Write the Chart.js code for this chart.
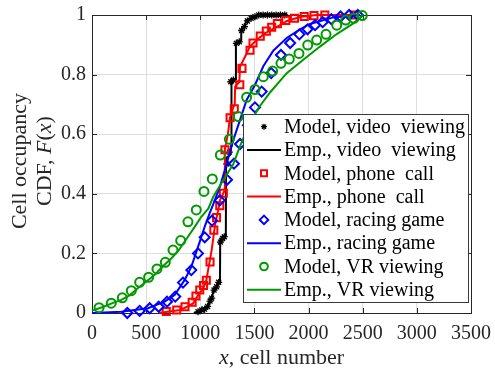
<!DOCTYPE html>
<html>
<head>
<meta charset="utf-8">
<script src="https://cdn.jsdelivr.net/npm/chart.js@4/dist/chart.umd.min.js"></script>
<style>
  html, body { margin: 0; padding: 0; background: #fff; }
  canvas { display: block; }
</style>
</head>
<body>
<canvas id="cdf" width="495" height="371"></canvas>
<script>
// Axis ticks
const xTicks = [0, 500, 1000, 1500, 2000, 2500, 3000, 3500];
const yTicks = [0, 0.2, 0.4, 0.6, 0.8, 1];

// Series: [cell number, CDF]
const videoModel = [[979,0.004],[1013,0.010],[1040,0.013],[1068,0.022],[1090,0.040],[1105,0.050],[1127,0.077],[1150,0.088],[1170,0.103],[1186,0.238],[1206,0.250],[1222,0.256],[1245,0.500],[1268,0.540],[1282,0.776],[1305,0.782],[1333,0.905],[1360,0.910],[1382,0.948],[1408,0.961],[1435,0.980],[1470,0.989],[1505,0.994],[1540,1.0],[1580,1.0],[1620,1.0],[1660,1.0],[1700,1.0],[1740,1.0],[1780,1.0]];
const videoEmp = [[940,0],[1000,0.005],[1040,0.012],[1074,0.027],[1105,0.055],[1136,0.083],[1176,0.100],[1182,0.105],[1184,0.245],[1228,0.256],[1236,0.260],[1238,0.520],[1275,0.530],[1285,0.560],[1288,0.776],[1320,0.782],[1327,0.785],[1329,0.905],[1367,0.910],[1376,0.915],[1378,0.950],[1404,0.961],[1428,0.981],[1465,0.989],[1505,0.994],[1551,1.0],[1798,1.0]];
const phoneModel = [[686,0.005],[782,0.010],[859,0.021],[925,0.036],[960,0.057],[995,0.077],[1030,0.092],[1056,0.110],[1090,0.171],[1125,0.278],[1150,0.320],[1180,0.360],[1213,0.402],[1228,0.548],[1275,0.655],[1314,0.685],[1365,0.766],[1385,0.821],[1459,0.882],[1487,0.906],[1554,0.929],[1610,0.946],[1659,0.959],[1712,0.971],[1790,0.982],[1870,0.989],[1960,0.995],[2050,0.998],[2150,1.0],[2420,1.0]];
const phoneEmp = [[620,0],[700,0.004],[813,0.010],[900,0.025],[935,0.033],[980,0.060],[1028,0.083],[1056,0.110],[1080,0.160],[1105,0.211],[1136,0.295],[1166,0.346],[1182,0.379],[1210,0.400],[1224,0.410],[1227,0.550],[1255,0.600],[1274,0.655],[1305,0.690],[1318,0.700],[1322,0.760],[1360,0.775],[1367,0.826],[1428,0.871],[1459,0.895],[1490,0.905],[1550,0.925],[1613,0.942],[1736,0.966],[1800,0.980],[1921,0.993],[2075,1.0],[2444,1.0]];
const racingModel = [[326,0.0],[440,0.007],[533,0.016],[616,0.021],[693,0.038],[769,0.055],[840,0.102],[917,0.144],[979,0.200],[1041,0.254],[1108,0.310],[1180,0.378],[1247,0.447],[1311,0.501],[1367,0.567],[1440,0.630],[1505,0.690],[1567,0.743],[1655,0.805],[1745,0.866],[1830,0.906],[1915,0.935],[1990,0.952],[2060,0.966],[2130,0.976],[2210,0.986],[2295,0.995],[2375,1.0],[2455,1.0]];
const racingEmp = [[0,0],[271,0.004],[517,0.016],[671,0.038],[763,0.060],[856,0.111],[917,0.155],[979,0.222],[1041,0.290],[1087,0.335],[1120,0.365],[1182,0.424],[1244,0.502],[1305,0.580],[1367,0.648],[1428,0.715],[1505,0.765],[1582,0.828],[1674,0.880],[1798,0.923],[1921,0.952],[2013,0.970],[2228,0.992],[2475,1.0]];
const vrModel = [[65,0.018],[178,0.033],[280,0.051],[363,0.075],[440,0.103],[523,0.120],[600,0.148],[677,0.170],[748,0.211],[819,0.243],[886,0.306],[963,0.346],[1034,0.408],[1111,0.450],[1185,0.530],[1268,0.583],[1351,0.659],[1428,0.724],[1505,0.750],[1582,0.793],[1668,0.812],[1745,0.838],[1822,0.852],[1911,0.871],[1992,0.899],[2075,0.916],[2161,0.935],[2260,0.966],[2343,0.983],[2419,0.989],[2496,0.998]];
const vrEmp = [[0,0.008],[100,0.020],[200,0.035],[271,0.044],[350,0.060],[425,0.084],[500,0.105],[579,0.128],[650,0.155],[732,0.183],[800,0.210],[886,0.256],[950,0.290],[1009,0.323],[1074,0.350],[1120,0.390],[1213,0.446],[1305,0.500],[1367,0.560],[1443,0.625],[1536,0.687],[1644,0.740],[1798,0.805],[1951,0.850],[2105,0.894],[2260,0.936],[2413,0.972],[2505,1.0]];

const seriesLabels = [
  'Model, video  viewing', 'Emp., video  viewing',
  'Model, phone  call', 'Emp., phone  call',
  'Model, racing game', 'Emp., racing game',
  'Model, VR viewing', 'Emp., VR viewing'
];

const SERIF = '"Liberation Serif", "Times New Roman", serif';
const INK = '#262626';
const BLACK = '#000000', RED = '#ff0000', BLUE = '#0000ff', GREEN = '#009900';

const toXY = arr => arr.map(([x, y]) => ({ x, y }));

function modelSet(label, data, color, style, radius, width, order) {
  return {
    label, data: toXY(data), showLine: false,
    pointStyle: style, pointRadius: radius, pointBorderWidth: width,
    pointBorderColor: color, pointBackgroundColor: 'rgba(0,0,0,0)',
    borderColor: color, backgroundColor: 'rgba(0,0,0,0)',
    clip: false, order
  };
}
function empSet(label, data, color, order) {
  return {
    label, data: toXY(data), showLine: true, pointRadius: 0,
    borderColor: color, borderWidth: 2, backgroundColor: color,
    tension: 0, clip: false, order
  };
}

// Box and inner tick marks
const frame = {
  id: 'frame',
  beforeDatasetsDraw(chart) {
    const { ctx, chartArea: a, scales: { x, y } } = chart;
    const L = 5;
    ctx.save();
    ctx.strokeStyle = INK;
    ctx.lineWidth = 1;
    ctx.beginPath();
    xTicks.forEach(v => {
      const p = Math.round(x.getPixelForValue(v)) + 0.5;
      ctx.moveTo(p, a.bottom); ctx.lineTo(p, a.bottom - L);
      ctx.moveTo(p, a.top); ctx.lineTo(p, a.top + L);
    });
    yTicks.forEach(v => {
      const p = Math.round(y.getPixelForValue(v)) + 0.5;
      ctx.moveTo(a.left, p); ctx.lineTo(a.left + L, p);
      ctx.moveTo(a.right, p); ctx.lineTo(a.right - L, p);
    });
    ctx.stroke();
    ctx.strokeRect(Math.round(a.left) + 0.5, Math.round(a.top) + 0.5,
                   Math.round(a.right - a.left), Math.round(a.bottom - a.top));
    ctx.restore();
  }
};

// Mixed upright/italic text, centred on cx
function richText(ctx, parts, cx, cy, size) {
  const fonts = parts.map(p => (p[1] ? 'italic ' : '') + size + 'px ' + SERIF);
  let total = 0;
  const widths = parts.map((p, i) => { ctx.font = fonts[i]; const w = ctx.measureText(p[0]).width; total += w; return w; });
  let x = cx - total / 2;
  parts.forEach((p, i) => { ctx.font = fonts[i]; ctx.fillText(p[0], x, cy); x += widths[i]; });
}

const titles = {
  id: 'titles',
  afterDraw(chart) {
    const { ctx, chartArea: a } = chart;
    ctx.save();
    ctx.fillStyle = INK;
    ctx.textBaseline = 'alphabetic';
    ctx.textAlign = 'left';
    richText(ctx, [['x', true], [', cell number', false]], (a.left + a.right) / 2, 364, 22);
    ctx.translate(0, 161);
    ctx.rotate(-Math.PI / 2);
    richText(ctx, [['Cell occupancy', false]], 0, 26, 22);
    richText(ctx, [['CDF, ', false], ['F', true], ['(', false], ['x', true], [')', false]], 0, 51, 22);
    ctx.restore();
  }
};

// Legend inside the plot area
const boxLegend = {
  id: 'boxLegend',
  afterDraw(chart) {
    const { ctx, chartArea: a } = chart;
    const w = 225, h = 188;
    const right = a.right - 3, bottom = a.bottom - 11;
    const left = right - w, top = bottom - h;
    ctx.save();
    ctx.fillStyle = '#ffffff';
    ctx.fillRect(left, top, w, h);
    ctx.strokeStyle = '#3a3a3a';
    ctx.lineWidth = 1;
    ctx.strokeRect(Math.round(left) + 0.5, Math.round(top) + 0.5, w, h);
    const rowH = 23.3;
    chart.data.datasets.forEach((ds, i) => {
      const cy = top + 12.7 + i * rowH;
      if (ds.showLine) {
        ctx.strokeStyle = ds.borderColor;
        ctx.lineWidth = ds.borderWidth;
        ctx.beginPath();
        ctx.moveTo(left + 4, cy);
        ctx.lineTo(left + 38, cy);
        ctx.stroke();
      } else {
        ctx.strokeStyle = ds.pointBorderColor;
        ctx.lineWidth = ds.pointBorderWidth;
        ctx.fillStyle = 'rgba(0,0,0,0)';
        Chart.helpers.drawPoint(ctx, {
          pointStyle: ds.pointStyle, radius: ds.pointRadius * 0.85,
          borderWidth: ds.pointBorderWidth, rotation: 0
        }, left + 21, cy);
      }
      ctx.fillStyle = '#000000';
      ctx.font = '20px ' + SERIF;
      ctx.textBaseline = 'middle';
      ctx.textAlign = 'left';
      ctx.fillText(ds.label, left + 41, cy + 1);
    });
    ctx.restore();
  }
};

const datasets = [
  modelSet(seriesLabels[0], videoModel, BLACK, 'star', 3.5, 1.3, 8),
  empSet(seriesLabels[1], videoEmp, BLACK, 7),
  modelSet(seriesLabels[2], phoneModel, RED, 'rect', 5, 2, 6),
  empSet(seriesLabels[3], phoneEmp, RED, 5),
  modelSet(seriesLabels[4], racingModel, BLUE, 'rectRot', 5, 2, 4),
  empSet(seriesLabels[5], racingEmp, BLUE, 3),
  modelSet(seriesLabels[6], vrModel, GREEN, 'circle', 4.5, 2, 2),
  empSet(seriesLabels[7], vrEmp, GREEN, 1)
];

const tickFont = { family: SERIF, size: 20 };

new Chart(document.getElementById('cdf'), {
  type: 'scatter',
  data: { datasets },
  options: {
    responsive: false,
    animation: false,
    events: [],
    layout: { padding: { left: 0, right: 24, top: 15, bottom: 0 } },
    plugins: { legend: { display: false }, tooltip: { enabled: false } },
    scales: {
      x: {
        type: 'linear', min: 0, max: 3500,
        afterBuildTicks: s => { s.ticks = xTicks.map(v => ({ value: v })); },
        afterFit: s => { s.height = 58; s.paddingLeft = 0; s.paddingRight = 0; },
        grid: { color: '#dedede', lineWidth: 1, drawTicks: false },
        border: { display: false },
        ticks: { font: tickFont, color: INK, padding: 9, maxRotation: 0, autoSkip: false,
                 callback: v => String(v) }
      },
      y: {
        type: 'linear', min: 0, max: 1,
        afterBuildTicks: s => { s.ticks = yTicks.map(v => ({ value: v })); },
        afterFit: s => { s.width = 92; s.paddingTop = 0; s.paddingBottom = 0; },
        grid: { color: '#dedede', lineWidth: 1, drawTicks: false },
        border: { display: false },
        ticks: { font: tickFont, color: INK, padding: 6, autoSkip: false,
                 callback: v => String(Math.round(v * 10) / 10) }
      }
    }
  },
  plugins: [frame, titles, boxLegend]
});
</script>
</body>
</html>
